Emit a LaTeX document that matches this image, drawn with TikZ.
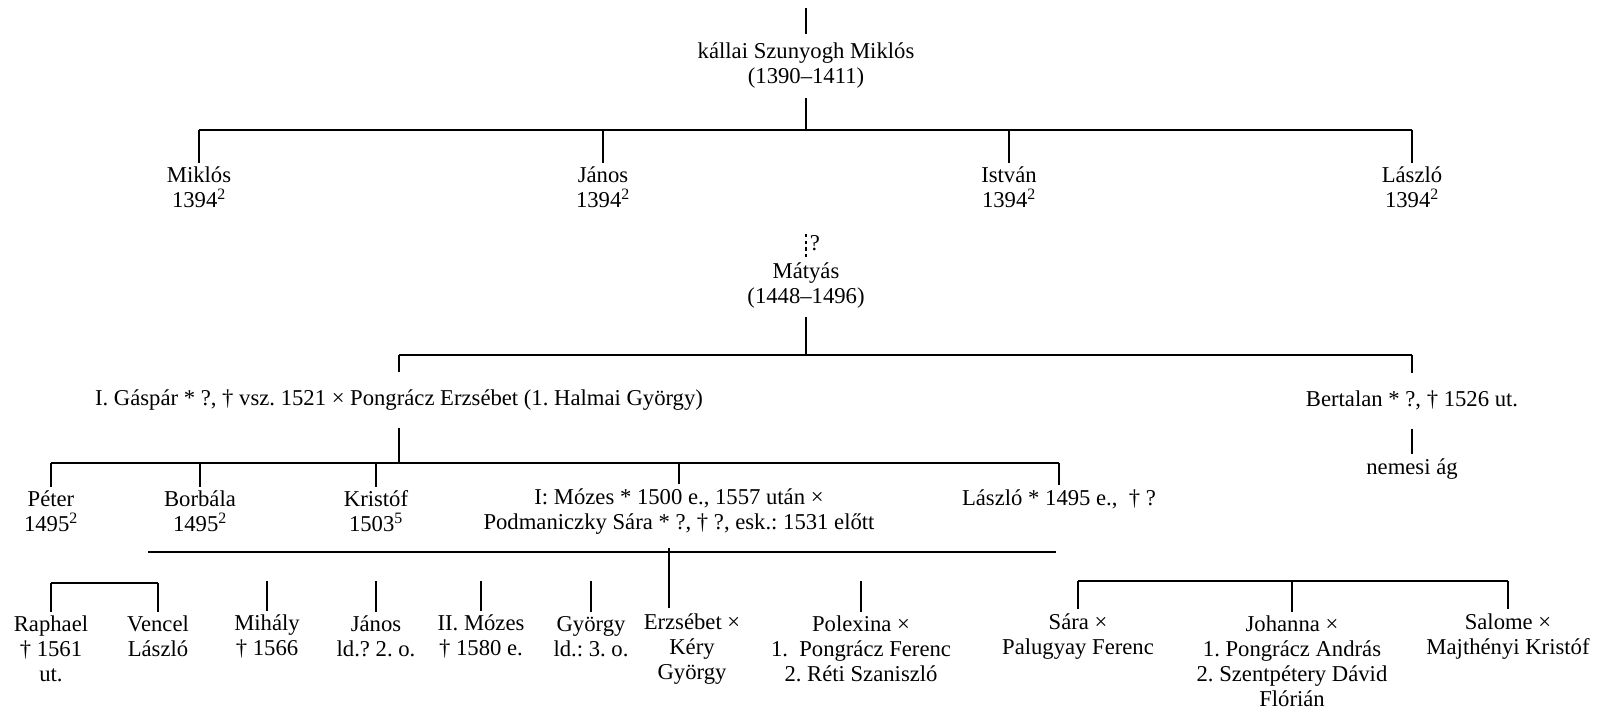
\documentclass[tikz,border=0pt]{standalone}
\usepackage{fontspec}
\setmainfont{Liberation Serif}
\frenchspacing
\begin{document}
\begin{tikzpicture}[x=0.75pt,y=-0.75pt,
  every node/.style={font=\fontsize{17}{18.75}\selectfont\frenchspacing, inner sep=0pt, align=center},
  ln/.style={line width=1.1pt},
  drop/.style={ln, shorten >=3pt},
  dsh/.style={line width=1pt, dash pattern=on 2.5pt off 2.5pt}]
\useasboundingbox (0,0) rectangle (1598,712);
% nodes
\node (kallai) at (806,65.5) {kállai Szunyogh Miklós\\(1390–1411)};
\node (miklos) at (199,187.5) {Miklós\\1394\textsuperscript{2}};
\node (janos1) at (603,187.5) {János\\1394\textsuperscript{2}};
\node (istvan) at (1009,187.5) {István\\1394\textsuperscript{2}};
\node (laszlo1) at (1412,187.5) {László\\1394\textsuperscript{2}};
\node (matyas) at (806,286) {Mátyás\\(1448–1496)};
\node (q) at (815,243) {?};
\node (gaspar) at (399,400) {I. Gáspár * ?, † vsz. 1521 × Pongrácz Erzsébet (1. Halmai György)};
\node (bertalan) at (1412,400) {Bertalan * ?, † 1526 ut.};
\node (nemesi) at (1412,469) {nemesi ág};
\node (peter) at (51,511.5) {Péter\\1495\textsuperscript{2}};
\node (borbala) at (200,511.5) {Borbála\\1495\textsuperscript{2}};
\node (kristof) at (376,511.5) {Kristóf\\1503\textsuperscript{5}};
\node (mozes) at (679,511.5) {I: Mózes * 1500 e., 1557 után ×\\Podmaniczky Sára * ?, † ?, esk.: 1531 előtt};
\node (laszlo2) at (1059,499) {László * 1495 e.,\ \ † ?};
\node (raphael) at (51,649) {Raphael\\† 1561\\ut.};
\node (vencel) at (158,636.5) {Vencel\\László};
\node (mihaly) at (267,636.5) {Mihály\\† 1566};
\node (janos2) at (376,636.5) {János\\ld.? 2. o.};
\node (mozes2) at (481,636.5) {II. Mózes\\† 1580 e.};
\node (gyorgy) at (591,636.5) {György\\ld.: 3. o.};
\node (erzsebet) at (692,649) {Erzsébet ×\\Kéry\\György};
\node (polexina) at (861,649) {Polexina ×\\1.\ \ Pongrácz Ferenc\\2. Réti Szaniszló};
\node (sara) at (1078,636.5) {Sára ×\\Palugyay Ferenc};
\node (johanna) at (1292,661.5) {Johanna ×\\1. Pongrácz András\\2. Szentpétery Dávid\\Flórián};
\node (salome) at (1508,636.5) {Salome ×\\Majthényi Kristóf};
% junction coordinates
\coordinate (top) at (806,8);
\coordinate (c1) at (806,130);
\coordinate (q0) at (806,234);
\coordinate (c2) at (806,355);
\coordinate (c3) at (399,463);
\coordinate (c4l) at (148,552);
\coordinate (c4r) at (1056,552);
\coordinate (c4) at (669,548);
\coordinate (c5) at (51,583);
\coordinate (c6) at (1292,581);
% connectors
\draw[ln, shorten >=6pt] (top) -- (kallai.north);
\draw[ln, shorten <=7pt] (kallai.south) -- (c1);
\draw[ln] (miklos.north |- c1) -- (laszlo1.north |- c1);
\foreach \n in {miklos,janos1,istvan,laszlo1} \draw[drop] (\n.north |- c1) -- (\n.north);
\draw[dsh, shorten >=2pt] (q0) -- (matyas.north);
\draw[ln, shorten <=6pt] (matyas.south) -- (c2);
\draw[ln] (gaspar.north |- c2) -- (bertalan.north |- c2);
\draw[ln, shorten >=13pt] (gaspar.north |- c2) -- (gaspar.north);
\draw[ln, shorten >=13pt] (bertalan.north |- c2) -- (bertalan.north);
\draw[ln, shorten <=14pt, shorten >=3pt] (bertalan.south) -- (nemesi.north);
\draw[ln, shorten <=13pt] (gaspar.south) -- (c3);
\draw[ln] (peter.north |- c3) -- (laszlo2.north |- c3);
\foreach \n in {peter,borbala,kristof,mozes,laszlo2} \draw[drop] (\n.north |- c3) -- (\n.north);
\draw[ln] (c4l) -- (c4r);
\draw[ln, shorten >=4pt] (c4) -- (c4 |- erzsebet.north);
\draw[ln] (raphael.north |- c5) -- (vencel.north |- c5);
\foreach \n in {raphael,vencel} \draw[drop] (\n.north |- c5) -- (\n.north);
\foreach \n in {mihaly,janos2,mozes2,gyorgy,polexina} \draw[drop] (\n.north |- c6) -- (\n.north);
\draw[ln] (sara.north |- c6) -- (salome.north |- c6);
\foreach \n in {sara,johanna,salome} \draw[drop] (\n.north |- c6) -- (\n.north);
\end{tikzpicture}
\end{document}
